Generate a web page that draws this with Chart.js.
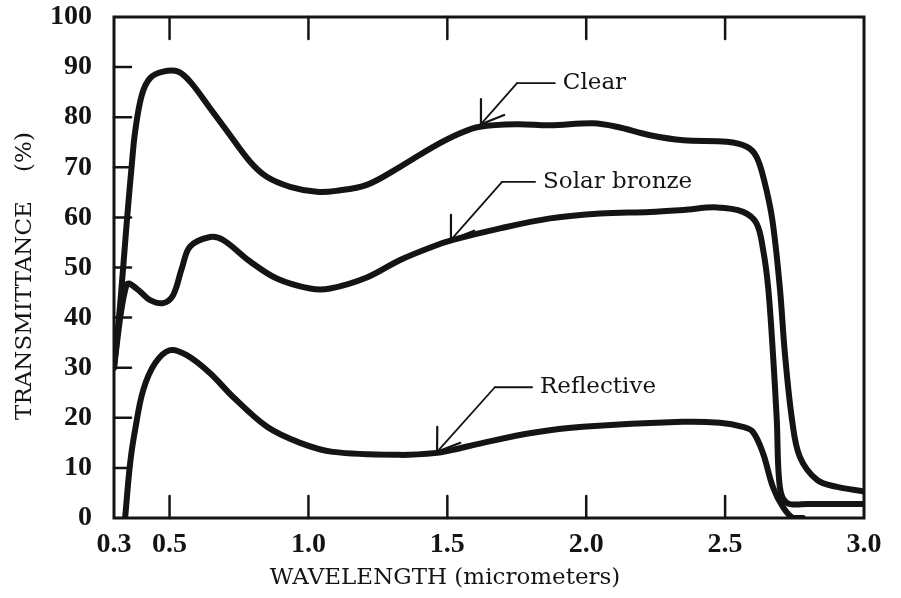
<!DOCTYPE html>
<html lang="en">
<head>
<meta charset="UTF-8" />
<title>Transmittance vs wavelength</title>
<style>
  body { margin: 0; background: #fff; }
  .wrap { width: 901px; height: 598px; position: relative; }
</style>
</head>
<body>
<div class="wrap"><canvas id="chart"></canvas></div>
<script src="https://cdn.jsdelivr.net/npm/chart.js"></script>
<script>
// Clear glass
const clearX = [0.30, 0.322, 0.346, 0.364, 0.376, 0.40, 0.43, 0.477, 0.531, 0.574, 0.646, 0.706, 0.79, 0.85, 0.934, 1.03, 1.10, 1.21, 1.33, 1.449, 1.546, 1.617, 1.75, 1.87, 2.025, 2.11, 2.23, 2.35, 2.506, 2.578, 2.613, 2.64, 2.67, 2.697, 2.715, 2.741, 2.769, 2.831, 2.903, 3.0];
const clearY = [30, 42.5, 59.1, 70.5, 77.1, 84.4, 87.8, 89.1, 89.1, 87.1, 81.8, 77.3, 71.1, 68.1, 66.1, 65.1, 65.3, 66.5, 70.1, 74.1, 76.8, 78.1, 78.6, 78.4, 78.8, 78.1, 76.4, 75.4, 75.1, 74.1, 72.1, 67.5, 59.5, 46, 33, 19.6, 12.2, 7.6, 6.2, 5.3];

// Solar bronze
const bronzeX = [0.30, 0.325, 0.345, 0.355, 0.394, 0.43, 0.477, 0.513, 0.544, 0.574, 0.646, 0.693, 0.79, 0.886, 1.006, 1.078, 1.21, 1.33, 1.449, 1.52, 1.69, 1.87, 2.05, 2.23, 2.35, 2.47, 2.565, 2.613, 2.637, 2.655, 2.672, 2.686, 2.697, 2.723, 2.80, 3.0];
const bronzeY = [30, 41, 46.5, 46.8, 45.2, 43.5, 42.9, 44.5, 49.8, 54.2, 56.1, 55.5, 51.2, 47.8, 45.8, 45.8, 48.0, 51.5, 54.2, 55.5, 57.8, 59.8, 60.8, 61.1, 61.5, 62.0, 61.1, 58.8, 53.5, 46, 33, 19.6, 6.2, 3, 2.8, 2.8];

// Reflective
const reflX = [0.34, 0.358, 0.376, 0.405, 0.448, 0.502, 0.562, 0.646, 0.728, 0.851, 0.97, 1.088, 1.33, 1.463, 1.52, 1.628, 1.808, 1.988, 2.348, 2.481, 2.564, 2.60, 2.636, 2.672, 2.708, 2.744, 2.78];
const reflY = [0, 10.9, 17.6, 25.5, 30.9, 33.5, 32.5, 28.9, 24.2, 18.2, 15, 13.2, 12.6, 13.0, 13.6, 15, 17, 18.2, 19.2, 19, 18.2, 17.2, 13, 6.2, 2.2, 0, 0];

const xTickValues = [0.3, 0.5, 1.0, 1.5, 2.0, 2.5, 3.0];
const xInnerTicks = [0.5, 1.0, 1.5, 2.0, 2.5];
const yInnerTicks = [10, 20, 30, 40, 50, 60, 70, 80, 90];

const xTitle = "WAVELENGTH (micrometers)";
const yTitle = "TRANSMITTANCE    (%)";

// call-out labels: arrow tip on the curve, elbow, end of the short horizontal
const callouts = [
  { text: "Clear", tip: [1.621, 78.6], elbow: [1.751, 86.8], end: [1.887, 86.8] },
  { text: "Solar bronze", tip: [1.513, 55.5], elbow: [1.697, 67.1], end: [1.816, 67.1] },
  { text: "Reflective", tip: [1.463, 13.2], elbow: [1.671, 26.1], end: [1.805, 26.1] }
];

const ink = "#141414";
const labelFont = '23px "DejaVu Serif", serif';

const toPoints = (xs, ys) => xs.map((x, i) => ({ x: x, y: ys[i] }));

const series = (data) => ({
  data: data,
  borderColor: ink,
  borderWidth: 6,
  pointRadius: 0,
  fill: false,
  tension: 0.35,
  borderCapStyle: "round",
  borderJoinStyle: "round"
});

const extras = {
  id: "extras",
  afterDraw(chart) {
    const ctx = chart.ctx;
    const a = chart.chartArea;
    const xs = chart.scales.x;
    const ys = chart.scales.y;
    const seg = (x1, y1, x2, y2) => {
      ctx.beginPath();
      ctx.moveTo(x1, y1);
      ctx.lineTo(x2, y2);
      ctx.stroke();
    };
    ctx.save();
    ctx.strokeStyle = ink;
    ctx.fillStyle = ink;
    ctx.lineCap = "round";

    // frame
    ctx.lineWidth = 3;
    ctx.strokeRect(a.left, a.top, a.right - a.left, a.bottom - a.top);

    // inward tick marks
    ctx.lineWidth = 2.5;
    xInnerTicks.forEach((v) => {
      const px = xs.getPixelForValue(v);
      seg(px, a.bottom, px, a.bottom - 22);
      seg(px, a.top, px, a.top + 22);
    });
    yInnerTicks.forEach((v) => {
      const py = ys.getPixelForValue(v);
      seg(a.left, py, a.left + 17, py);
    });

    // call-outs: leader line, short horizontal, open arrow head
    ctx.font = labelFont;
    ctx.textBaseline = "middle";
    ctx.textAlign = "left";
    callouts.forEach((c) => {
      const tx = xs.getPixelForValue(c.tip[0]);
      const ty = ys.getPixelForValue(c.tip[1]);
      const ex = xs.getPixelForValue(c.elbow[0]);
      const ey = ys.getPixelForValue(c.elbow[1]);
      const hx = xs.getPixelForValue(c.end[0]);
      ctx.lineWidth = 1.8;
      seg(tx, ty, ex, ey);
      seg(ex, ey, hx, ey);
      ctx.lineWidth = 2.2;
      const ang = Math.atan2(ey - ty, ex - tx);
      [-0.72, 0.47].forEach((d) => {
        seg(tx, ty, tx + 25 * Math.cos(ang + d), ty + 25 * Math.sin(ang + d));
      });
      ctx.fillText(c.text, hx + 8, ey);
    });

    // axis titles
    ctx.textAlign = "center";
    ctx.fillText(xTitle, 445, 578);
    ctx.translate(25, 276);
    ctx.rotate(-Math.PI / 2);
    ctx.fillText(yTitle, 0, 0);
    ctx.restore();
  }
};

const tickFont = { family: '"Liberation Serif", serif', size: 28, weight: "bold" };

new Chart(document.getElementById("chart"), {
  type: "line",
  data: {
    datasets: [
      series(toPoints(clearX, clearY)),
      series(toPoints(bronzeX, bronzeY)),
      series(toPoints(reflX, reflY))
    ]
  },
  options: {
    responsive: true,
    maintainAspectRatio: false,
    animation: false,
    layout: { padding: { top: 17, right: 37, left: 0, bottom: 0 } },
    plugins: { legend: { display: false }, tooltip: { enabled: false } },
    scales: {
      x: {
        type: "linear",
        min: 0.3,
        max: 3.0,
        afterBuildTicks: (scale) => {
          scale.ticks = xTickValues.map((v) => ({ value: v }));
        },
        afterFit: (scale) => {
          scale.height = 80;
          scale.paddingLeft = 0;
          scale.paddingRight = 0;
        },
        grid: { display: false, drawTicks: false },
        border: { display: false },
        ticks: {
          color: ink,
          font: tickFont,
          padding: 10,
          maxRotation: 0,
          autoSkip: false,
          callback: (v) => Number(v).toFixed(1)
        }
      },
      y: {
        min: 0,
        max: 100,
        afterFit: (scale) => {
          scale.width = 114;
          scale.paddingTop = 0;
          scale.paddingBottom = 0;
        },
        grid: { display: false, drawTicks: false },
        border: { display: false },
        ticks: { color: ink, font: tickFont, padding: 22, stepSize: 10 }
      }
    }
  },
  plugins: [extras]
});
</script>
</body>
</html>
